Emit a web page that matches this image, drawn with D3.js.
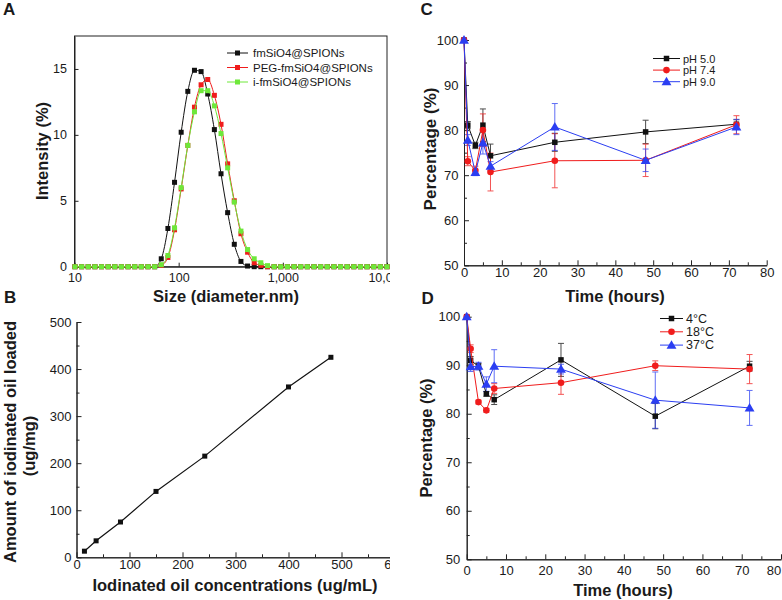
<!DOCTYPE html>
<html><head><meta charset="utf-8">
<script src="https://cdn.jsdelivr.net/npm/d3@7"></script>
<style>
body{margin:0;background:#fff}
svg{display:block}
text{font-family:"Liberation Sans",Arial,Helvetica,sans-serif;fill:#1a1a1a}
</style>
</head><body>
<svg id="chart" width="782" height="600"></svg>
<script>
// ---------- Panel A: DLS size distribution ----------
const sizeBins = [10.1, 11.7, 13.54, 15.69, 18.17, 21.04, 24.36, 28.21, 32.67, 37.84, 43.82, 50.75,
  58.77, 68.06, 78.82, 91.28, 105.7, 122.4, 141.8, 164.2, 190.1, 220.2, 255.0, 295.3, 342.0, 396.1,
  458.7, 531.2, 615.1, 712.4, 825.0, 955.4, 1106, 1281, 1484, 1718, 1990, 2305, 2669, 3091, 3580,
  4145, 4801, 5560, 6439, 7456, 8635, 10000];
const fmSiO4 = [0,0,0,0,0,0,0,0,0,0,0,0,
  0, 0.6, 2.9, 6.4, 10.2, 13.3, 14.9, 14.8, 13.1, 10.4, 7.05, 4.1, 1.7, 0.4,
  0.05, 0, 0, 0, 0, 0, 0, 0, 0, 0, 0, 0, 0, 0, 0, 0, 0, 0, 0, 0, 0, 0];
const pegFmSiO4 = [0,0,0,0,0,0,0,0,0,0,0,0,
  0, 0.1, 0.7, 2.8, 5.9, 9.2, 12.1, 13.8, 14.2, 13.0, 10.8, 7.8, 5.0, 2.5,
  1.1, 0.3, 0.1, 0, 0, 0, 0, 0, 0, 0, 0, 0, 0, 0, 0, 0, 0, 0, 0, 0, 0, 0];
const iFmSiO4 = [0,0,0,0,0,0,0,0,0,0,0,0,
  0, 0.15, 0.85, 2.95, 6.0, 9.2, 11.75, 13.35, 13.35, 12.2, 10.1, 7.5, 4.9, 2.7,
  1.3, 0.6, 0.3, 0.08, 0, 0, 0, 0, 0, 0, 0, 0, 0, 0, 0, 0, 0, 0, 0, 0, 0, 0];
const sizeSeriesNames = ["fmSiO4@SPIONs", "PEG-fmSiO4@SPIONs", "i-fmSiO4@SPIONs"];
const sizeTicks = [10, 100, 1000, 10000];
const intensityTicks = [0, 5, 10, 15];

// ---------- Panel B: loading ----------
const loadConc = [15, 37, 83, 150, 242, 400, 480];
const loadAmount = [13, 35, 75, 140, 215, 362, 425];
const concTicks = [0, 100, 200, 300, 400, 500, 600];
const amountTicks = [0, 100, 200, 300, 400, 500];

// ---------- Panel C: pH stability ----------
const phTimes = [0, 1, 3, 5, 7, 24, 48, 72];
const pH50 = [100, 81.1, 76.6, 81.1, 74.3, 77.3, 79.6, 81.3];
const pH50Err = [0, 0.8, 0.7, 3.6, 2.6, 2.0, 2.6, 1.0];
const pH74 = [100, 73.1, 71.0, 80.0, 70.7, 73.2, 73.3, 81.2];
const pH74Err = [0, 1.0, 1.0, 3.6, 4.2, 6.0, 3.6, 2.0];
const pH90 = [100, 77.8, 70.6, 77.2, 72.0, 80.7, 73.3, 80.7];
const pH90Err = [0.3, 1.2, 0.7, 2.5, 1.0, 5.2, 2.5, 1.7];
const phNames = ["pH 5.0", "pH 7.4", "pH 9.0"];

// ---------- Panel D: temperature stability ----------
const tempTimes = [0, 1, 3, 5, 7, 24, 48, 72];
const t4 = [100, 91.0, 89.8, 84.1, 82.9, 91.1, 79.5, 89.8];
const t4Err = [0, 0.8, 0.6, 0.5, 1.0, 3.4, 2.6, 1.0];
const t18 = [100, 93.4, 82.4, 80.7, 85.2, 86.4, 89.9, 89.2];
const t18Err = [0, 0.8, 0.4, 0.4, 1.0, 2.4, 1.0, 3.0];
const t37 = [100, 89.7, 89.8, 86.1, 89.8, 89.2, 82.8, 81.2];
const t37Err = [0, 1.0, 0.8, 1.5, 3.4, 1.0, 5.8, 3.6];
const tempNames = ["4°C", "18°C", "37°C"];

const timeTicks = [0, 10, 20, 30, 40, 50, 60, 70, 80];
const pctTicks = [50, 60, 70, 80, 90, 100];

// ---------- drawing ----------
const svg = d3.select("#chart");
const BLACK = "#111", RED = "#f01c1c", BLUE = "#2b3ef2", GREEN = "#6ee83a";

svg.append("defs").append("clipPath").attr("id", "leftClip")
  .append("rect").attr("x", 0).attr("y", 0).attr("width", 390).attr("height", 600);
const left = svg.append("g").attr("clip-path", "url(#leftClip)");

function drawMarker(g, type, cx, cy, color, sz) {
  if (type === "square") {
    const s = sz || 5.5;
    g.append("rect").attr("x", cx - s / 2).attr("y", cy - s / 2).attr("width", s).attr("height", s).attr("fill", color);
  } else if (type === "circle") {
    g.append("circle").attr("cx", cx).attr("cy", cy).attr("r", sz || 3.3).attr("fill", color);
  } else {
    g.append("path").attr("d", d3.symbol(d3.symbolTriangle, sz || 42)()).attr("transform", `translate(${cx},${cy + 0.8})`).attr("fill", color);
  }
}

function styleAxis(g, fs) {
  g.selectAll("path.domain").attr("stroke", "#222").attr("stroke-width", 1);
  g.selectAll(".tick line").attr("stroke", "#222").attr("stroke-width", 1);
  g.selectAll("text").style("font-size", fs + "px").attr("fill", "#1a1a1a");
}

function panelLabel(txt, x, y) {
  svg.append("text").attr("x", x).attr("y", y).text(txt).style("font-size", "17px").style("font-weight", "bold").attr("fill", "#111");
}
function title(g, txt, x, y, rot, fs) {
  const t = g.append("text").text(txt).style("font-size", (fs || 16.5) + "px").style("font-weight", "bold")
    .attr("text-anchor", "middle").attr("fill", "#111");
  if (rot) t.attr("transform", `translate(${x},${y}) rotate(-90)`).attr("dominant-baseline", "central");
  else t.attr("x", x).attr("y", y);
}

// ===== Panel A =====
(function () {
  const g = left.append("g");
  const x = d3.scaleLog().domain([10, 10000]).range([74.5, 387]);
  const y = d3.scaleLinear().domain([0, 17.5]).range([266.7, 36]);
  g.append("rect").attr("x", 74.5).attr("y", 36).attr("width", 387 - 74.5).attr("height", 266.7 - 36)
    .attr("fill", "none").attr("stroke", "#222").attr("stroke-width", 1);
  const ax = g.append("g").attr("transform", "translate(0,266.7)")
    .call(d3.axisBottom(x).tickValues(sizeTicks).tickFormat(d3.format(",")).tickSize(-4).tickSizeOuter(0).tickPadding(6));
  styleAxis(ax, 12.5);
  const ay = g.append("g").attr("transform", "translate(74.5,0)")
    .call(d3.axisLeft(y).tickValues(intensityTicks).tickSize(-4).tickSizeOuter(0).tickPadding(7.5));
  styleAxis(ay, 12.5);
  title(g, "Intensity (%)", 42, 151, true, 16.5);
  title(g, "Size (diameter.nm)", 226, 302, false, 16.5);

  const seriesA = [fmSiO4, pegFmSiO4, iFmSiO4];
  const colsA = [BLACK, RED, GREEN];
  const line = d3.line().x((d, i) => x(sizeBins[i])).y(d => y(d)).curve(d3.curveMonotoneX);
  seriesA.forEach((s, k) => {
    g.append("path").attr("d", line(s)).attr("fill", "none").attr("stroke", colsA[k]).attr("stroke-width", 1);
    s.forEach((v, i) => drawMarker(g, "square", x(sizeBins[i]), y(v), colsA[k], 5));
  });
  // legend
  sizeSeriesNames.forEach((n, k) => {
    const yy = 53 + k * 14.5;
    g.append("line").attr("x1", 227).attr("x2", 248).attr("y1", yy).attr("y2", yy).attr("stroke", colsA[k]).attr("stroke-width", 1);
    drawMarker(g, "square", 237.5, yy, colsA[k], 5);
    g.append("text").attr("x", 253).attr("y", yy + 4).text(n).style("font-size", "11.5px");
  });
})();

// ===== Panel B =====
(function () {
  const g = left.append("g");
  const x = d3.scaleLinear().domain([0, 600]).range([76.5, 394.5]);
  const y = d3.scaleLinear().domain([0, 500]).range([557.3, 322]);
  const axm = g.append("g").attr("transform", "translate(0,557.3)")
    .call(d3.axisBottom(x).tickValues(d3.range(50, 600, 100)).tickFormat("").tickSize(-3).tickSizeOuter(0));
  styleAxis(axm, 13);
  const ax = g.append("g").attr("transform", "translate(0,557.3)")
    .call(d3.axisBottom(x).tickValues(concTicks).tickSize(-5).tickSizeOuter(0).tickPadding(2));
  styleAxis(ax, 13);
  const aym = g.append("g").attr("transform", "translate(76.5,0)")
    .call(d3.axisLeft(y).tickValues(d3.range(50, 500, 100)).tickFormat("").tickSize(-3).tickSizeOuter(0));
  styleAxis(aym, 13);
  const ay = g.append("g").attr("transform", "translate(76.5,0)")
    .call(d3.axisLeft(y).tickValues(amountTicks).tickSize(-5).tickSizeOuter(0).tickPadding(5));
  styleAxis(ay, 13);
  title(g, "Amount of iodinated oil loaded", 9.5, 442, true, 16.5);
  title(g, "(ug/mg)", 29, 446, true, 16.5);
  title(g, "Iodinated oil concentrations (ug/mL)", 235, 591, false, 16.5);
  const line = d3.line().x((d, i) => x(loadConc[i])).y(d => y(d));
  g.append("path").attr("d", line(loadAmount)).attr("fill", "none").attr("stroke", "#111").attr("stroke-width", 1.2);
  loadAmount.forEach((v, i) => drawMarker(g, "square", x(loadConc[i]), y(v), "#111", 5));
})();

function stabilityPanel(opts) {
  const g = svg.append("g");
  const x = d3.scaleLinear().domain([0, 80]).range(opts.xr);
  const y = d3.scaleLinear().domain([50, 100]).range(opts.yr);
  const y0 = opts.yr[0], x0 = opts.xr[0];
  const axm = g.append("g").attr("transform", `translate(0,${y0})`)
    .call(d3.axisBottom(x).tickValues(d3.range(5, 80, 10)).tickFormat("").tickSize(-3).tickSizeOuter(0));
  styleAxis(axm, 13);
  const ax = g.append("g").attr("transform", `translate(0,${y0})`)
    .call(d3.axisBottom(x).tickValues(timeTicks).tickSize(-5).tickSizeOuter(0).tickPadding(opts.xpad));
  styleAxis(ax, 13);
  if (opts.lastDx) ax.selectAll(".tick text").filter(d => d === 80).attr("dx", opts.lastDx);
  const aym = g.append("g").attr("transform", `translate(${x0},0)`)
    .call(d3.axisLeft(y).tickValues(d3.range(55, 100, 10)).tickFormat("").tickSize(-3).tickSizeOuter(0));
  styleAxis(aym, 13);
  const ay = g.append("g").attr("transform", `translate(${x0},0)`)
    .call(d3.axisLeft(y).tickValues(pctTicks).tickSize(-5).tickSizeOuter(0).tickPadding(opts.ypad));
  styleAxis(ay, 13);
  title(g, "Percentage (%)", opts.ytPos[0], opts.ytPos[1], true, opts.ytSize);
  title(g, "Time (hours)", opts.xtPos[0], opts.xtPos[1], false, 16.5);

  const cols = [BLACK, RED, BLUE];
  const types = ["square", "circle", "triangle"];
  const line = d3.line().x((d, i) => x(opts.times[i])).y(d => y(d));
  opts.series.forEach((s, k) => {
    const e = opts.errs[k];
    const eg = g.append("g").attr("opacity", 0.75);
    s.forEach((v, i) => {
      if (!e[i]) return;
      const xx = x(opts.times[i]);
      eg.append("line").attr("x1", xx).attr("x2", xx).attr("y1", y(v - e[i])).attr("y2", y(v + e[i])).attr("stroke", cols[k]).attr("stroke-width", 1);
      [v - e[i], v + e[i]].forEach(w => eg.append("line").attr("x1", xx - 3).attr("x2", xx + 3).attr("y1", y(w)).attr("y2", y(w)).attr("stroke", cols[k]).attr("stroke-width", 1));
    });
  });
  opts.series.forEach((s, k) => {
    g.append("path").attr("d", line(s)).attr("fill", "none").attr("stroke", cols[k]).attr("stroke-width", 1);
    s.forEach((v, i) => drawMarker(g, types[k], x(opts.times[i]), y(v), cols[k]));
  });
  opts.names.forEach((n, k) => {
    const yy = opts.leg.y + k * opts.leg.dy;
    g.append("line").attr("x1", opts.leg.x1).attr("x2", opts.leg.x2).attr("y1", yy).attr("y2", yy).attr("stroke", cols[k]).attr("stroke-width", 1);
    drawMarker(g, types[k], (opts.leg.x1 + opts.leg.x2) / 2, yy, cols[k]);
    g.append("text").attr("x", opts.leg.x2 + 3).attr("y", yy + 4).text(n).style("font-size", opts.leg.fs + "px");
  });
}

stabilityPanel({
  xr: [464, 766.7], yr: [265.3, 40], xpad: 2, ypad: 5.5,
  ytPos: [430, 149], ytSize: 17, xtPos: [615, 302],
  times: phTimes, series: [pH50, pH74, pH90], errs: [pH50Err, pH74Err, pH90Err], names: phNames,
  leg: { x1: 653, x2: 680, y: 58.5, dy: 11.6, fs: 11 }
});
stabilityPanel({
  xr: [466.7, 781], yr: [559.3, 316.7], xpad: 6, ypad: 6.5,
  ytPos: [426, 438], ytSize: 16.5, xtPos: [623, 596],
  times: tempTimes, series: [t4, t18, t37], errs: [t4Err, t18Err, t37Err], names: tempNames,
  leg: { x1: 660, x2: 683, y: 318.5, dy: 13.3, fs: 12.5 },
  lastDx: -7.5
});

panelLabel("A", 3, 15);
panelLabel("B", 4, 303);
panelLabel("C", 420.5, 15);
panelLabel("D", 421.5, 304);
</script>
</body></html>
